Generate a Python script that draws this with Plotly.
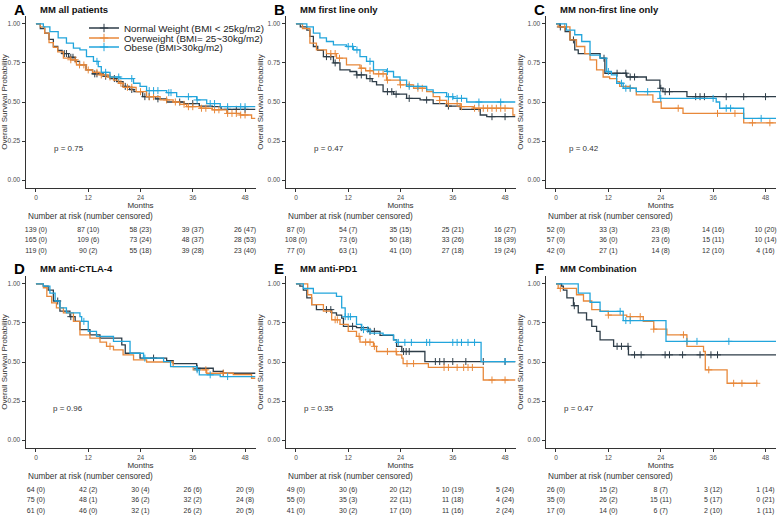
import plotly.graph_objects as go
import numpy as np

# ------------------------------------------------------------------ data
group_names = ["Normal Weight (BMI < 25kg/m2)", "Overweight (BMI= 25~30kg/m2)", "Obese (BMI>30kg/m2)"]
panel_letters = ["A", "B", "C", "D", "E", "F"]
panel_titles = ["MM all patients", "MM first line only", "MM non-first line only",
                "MM anti-CTLA-4", "MM anti-PD1", "MM Combination"]
p_values = ["0.75", "0.47", "0.42", "0.96", "0.35", "0.47"]
risk_months = [0, 12, 24, 36, 48]
surv_ticks = [0, 0.25, 0.5, 0.75, 1.0]

# Kaplan-Meier steps (month, survival) and censor times
# A - all patients
a_nor_t = [0, 1, 2, 3, 4, 5, 6, 7.5, 9, 10, 11.5, 13, 15.5, 17, 18.5, 20, 21.5, 22.5, 24.5, 27.5, 30, 34, 37.5, 40.5, 42.5, 50.4]
a_nor_s = [1.0, 0.97, 0.94, 0.90, 0.855, 0.83, 0.81, 0.786, 0.76, 0.737, 0.705, 0.68, 0.665, 0.65, 0.63, 0.60, 0.58, 0.566, 0.534, 0.52, 0.50, 0.49, 0.474, 0.47, 0.453, 0.453]
a_nor_c = [6.5, 7, 8, 8.5, 13.5, 14, 16, 18, 20.5, 22, 25, 26, 28, 33, 36, 44, 46, 48]
a_ovr_t = [0, 1, 2, 3, 4, 5, 6.3, 8, 9.3, 11.5, 13, 14.7, 16.5, 17.8, 19, 20, 23, 25.4, 28.5, 31.5, 33, 34.6, 37.7, 40.5, 43.8, 46.9, 49.5, 50.4]
a_ovr_s = [1.0, 0.98, 0.94, 0.88, 0.85, 0.82, 0.78, 0.77, 0.737, 0.705, 0.69, 0.673, 0.66, 0.64, 0.62, 0.594, 0.566, 0.534, 0.513, 0.50, 0.485, 0.47, 0.46, 0.45, 0.427, 0.417, 0.395, 0.395]
a_ovr_c = [8, 9, 10, 11, 12, 14, 15, 16, 17, 19.5, 21, 22, 24, 26, 27, 30, 32, 34, 35, 36, 38, 39, 41, 42, 44, 45, 46, 47, 48]
a_obe_t = [0, 1.7, 3.2, 5.1, 7, 8.6, 10.1, 11.6, 13.2, 14.3, 15, 17, 19.3, 22.4, 23.9, 25.4, 30, 32.3, 36.9, 39.2, 42.3, 50.4]
a_obe_s = [1.0, 0.98, 0.95, 0.91, 0.876, 0.844, 0.833, 0.79, 0.76, 0.726, 0.69, 0.66, 0.65, 0.62, 0.60, 0.573, 0.56, 0.534, 0.513, 0.49, 0.47, 0.47]
a_obe_c = [14, 16, 19, 22, 26, 27, 28, 30.5, 31, 35, 37, 40, 41, 44, 47, 48]

# B - first line only
b_nor_t = [0, 1, 2.5, 3.2, 4, 5, 6.3, 8.6, 10.1, 12.4, 13.9, 16.2, 17.5, 18.5, 20, 22.4, 25.4, 28.5, 31.5, 34.6, 37.7, 42.3, 43.8, 50.4]
b_nor_s = [1.0, 0.98, 0.96, 0.92, 0.855, 0.83, 0.79, 0.75, 0.705, 0.695, 0.673, 0.65, 0.63, 0.61, 0.566, 0.55, 0.523, 0.513, 0.49, 0.474, 0.453, 0.417, 0.406, 0.406]
b_nor_c = [7, 8, 9, 14, 15, 17, 21, 22, 23, 26, 30, 35, 45, 48]
b_ovr_t = [0, 1.5, 3.2, 4.7, 7, 9.3, 11.6, 14.7, 16, 17.8, 20.8, 23.9, 27, 30, 31.5, 33, 34.6, 37.7, 40.7, 49.8, 50.4]
b_ovr_s = [1.0, 0.97, 0.876, 0.833, 0.81, 0.78, 0.737, 0.716, 0.70, 0.68, 0.64, 0.61, 0.588, 0.566, 0.534, 0.51, 0.49, 0.47, 0.46, 0.417, 0.417]
b_ovr_c = [8, 9, 10, 15, 17, 19, 20, 21, 24, 26, 28, 29, 33, 35, 37, 38, 41, 42, 43, 44, 45, 46, 47, 48]
b_obe_t = [0, 2.5, 4, 5.5, 7, 8.6, 11.6, 13.2, 14.7, 16.2, 17.8, 20.8, 22.4, 23.9, 25.4, 30, 31.5, 34.6, 36.1, 39.2, 50.4]
b_obe_s = [1.0, 0.98, 0.94, 0.91, 0.887, 0.865, 0.855, 0.833, 0.79, 0.76, 0.705, 0.695, 0.66, 0.64, 0.60, 0.577, 0.56, 0.534, 0.523, 0.50, 0.50]
b_obe_c = [12, 13, 14, 17, 21, 26, 28, 35, 36, 37, 38, 42, 47]

# C - non-first line only
c_nor_t = [0, 0.9, 2.1, 3.2, 4.3, 5.1, 10.1, 11.2, 16.2, 20.7, 23.8, 24.5, 30, 50.4]
c_nor_s = [1.0, 0.98, 0.95, 0.897, 0.833, 0.81, 0.78, 0.684, 0.66, 0.64, 0.588, 0.566, 0.534, 0.534]
c_nor_c = [1, 4, 11, 14, 16, 17, 18, 24, 25, 26, 32, 33, 34, 39, 43, 48]
c_ovr_t = [0, 0.5, 3.2, 4.7, 6.6, 7.8, 9.3, 10.8, 12.3, 13.9, 14.6, 16.9, 18.4, 22.2, 24.1, 29.1, 43, 50.4]
c_ovr_s = [1.0, 0.98, 0.897, 0.855, 0.81, 0.77, 0.705, 0.66, 0.65, 0.63, 0.60, 0.588, 0.545, 0.50, 0.46, 0.427, 0.367, 0.367]
c_ovr_c = [2, 17, 28, 37, 41, 45, 49]
c_obe_t = [0, 2.4, 4.3, 5.9, 7.8, 10.1, 11.6, 12.7, 13.9, 15.4, 18.4, 23.8, 36.7, 37.5, 43, 50.4]
c_obe_s = [1.0, 0.96, 0.93, 0.887, 0.80, 0.78, 0.695, 0.673, 0.62, 0.588, 0.566, 0.523, 0.50, 0.46, 0.395, 0.395]
c_obe_c = [12, 15, 16, 17, 21, 24, 36, 39, 40, 47]

# D - anti-CTLA-4
d_nor_t = [0, 1.7, 2.8, 4, 5.5, 7.8, 9, 10.1, 12.4, 14.7, 19.7, 20.5, 23.9, 30, 31.5, 36.9, 40.7, 43, 50.4]
d_nor_s = [1.0, 0.985, 0.96, 0.89, 0.825, 0.79, 0.76, 0.707, 0.674, 0.653, 0.61, 0.556, 0.525, 0.508, 0.49, 0.46, 0.44, 0.428, 0.428]
d_nor_c = [5, 8, 27, 37, 43]
d_ovr_t = [0, 1.7, 2.5, 3.6, 4.7, 6.3, 8.6, 10.1, 12.4, 14.7, 16.2, 17.8, 20, 22.4, 25.4, 31.5, 36.1, 39.2, 45.3, 49.5, 50.4]
d_ovr_s = [1.0, 0.975, 0.92, 0.878, 0.846, 0.814, 0.76, 0.674, 0.653, 0.627, 0.60, 0.578, 0.546, 0.514, 0.50, 0.47, 0.45, 0.428, 0.42, 0.396, 0.396]
d_ovr_c = [17, 39, 43]
d_obe_t = [0, 1.7, 3.2, 4.4, 5.5, 7, 10.1, 10.5, 12, 13.9, 17.8, 21.6, 24.7, 29.3, 30.9, 36.9, 37.5, 42.3, 50.4]
d_obe_s = [1.0, 0.985, 0.94, 0.89, 0.846, 0.814, 0.79, 0.76, 0.696, 0.664, 0.632, 0.556, 0.525, 0.503, 0.47, 0.45, 0.418, 0.407, 0.407]
d_obe_c = [11, 25, 37, 40, 44]

# E - anti-PD1
e_nor_t = [0, 0.9, 1.7, 2.5, 3.6, 4.7, 8.2, 9.3, 10.5, 10.9, 13.9, 16.6, 19.3, 22.4, 23.1, 24.3, 29.6, 50.4]
e_nor_s = [1.0, 0.985, 0.96, 0.91, 0.867, 0.835, 0.814, 0.80, 0.78, 0.728, 0.72, 0.696, 0.67, 0.642, 0.60, 0.567, 0.503, 0.503]
e_nor_c = [7, 8, 13, 15, 17, 18, 24.7, 25.3, 26, 32, 33, 34, 36, 39, 43, 48]
e_ovr_t = [0, 2.7, 3.6, 6.3, 8.2, 10.1, 12, 13.9, 14.7, 17.8, 18.5, 23.1, 24.3, 24.6, 30.4, 43, 50.4]
e_ovr_s = [1.0, 0.93, 0.867, 0.825, 0.77, 0.74, 0.696, 0.664, 0.627, 0.60, 0.567, 0.546, 0.525, 0.49, 0.465, 0.385, 0.385]
e_ovr_c = [9, 9.5, 14.5, 16, 17, 18, 21, 23, 25.5, 27, 34, 35, 37, 38.5, 39.5, 40.5, 45, 48]
e_obe_t = [0, 1.7, 4, 9.3, 10.5, 11.3, 13.9, 15.1, 17, 20, 22.4, 23.1, 42.5, 50.4]
e_obe_s = [1.0, 0.97, 0.94, 0.92, 0.846, 0.79, 0.74, 0.707, 0.685, 0.674, 0.642, 0.625, 0.503, 0.503]
e_obe_c = [11.3, 12, 12.5, 15.5, 16.5, 23.5, 25, 26.5, 30, 30.7, 36, 37, 38, 39.5, 41, 48]

# F - combination
f_nor_t = [0, 1.3, 1.7, 2.5, 4, 5.1, 7, 8.2, 9.3, 10.1, 13.2, 16.6, 50.4]
f_nor_s = [1.0, 0.985, 0.96, 0.91, 0.86, 0.814, 0.77, 0.728, 0.696, 0.642, 0.60, 0.546, 0.546]
f_nor_c = [4.2, 14, 15, 16.5, 18, 19.5, 25, 26, 29, 33, 35.5, 37]
f_ovr_t = [0, 0.5, 4.7, 6.3, 8.2, 10.1, 12, 16.2, 20, 22.4, 25.4, 30, 33.8, 34.2, 39.2, 46.2]
f_ovr_s = [1.0, 0.971, 0.93, 0.89, 0.835, 0.825, 0.80, 0.79, 0.76, 0.71, 0.674, 0.60, 0.567, 0.45, 0.364, 0.364]
f_ovr_c = [1, 12, 17, 19.3, 22.4, 29.2, 35, 40.7, 42.6, 46]
f_obe_t = [0, 5.1, 7.8, 10.1, 15.4, 25.2, 50.4]
f_obe_s = [1.0, 0.941, 0.882, 0.824, 0.765, 0.632, 0.632]
f_obe_c = [14.7, 16, 17, 30, 32.3, 39.6]

# Number at risk (rows: normal, overweight, obese) and number censored
a_risk = [[139, 87, 58, 39, 26], [165, 109, 73, 48, 28], [119, 90, 55, 39, 23]]
a_cens = [[0, 10, 23, 37, 47], [0, 6, 24, 37, 53], [0, 2, 18, 28, 40]]
b_risk = [[87, 54, 35, 25, 16], [108, 73, 50, 33, 18], [77, 63, 41, 27, 19]]
b_cens = [[0, 7, 15, 21, 27], [0, 6, 18, 26, 39], [0, 1, 10, 18, 24]]
c_risk = [[52, 33, 23, 14, 10], [57, 36, 23, 15, 10], [42, 27, 14, 12, 4]]
c_cens = [[0, 3, 8, 16, 20], [0, 0, 6, 11, 14], [0, 1, 8, 10, 16]]
d_risk = [[64, 42, 30, 26, 20], [75, 48, 36, 32, 24], [61, 46, 32, 26, 20]]
d_cens = [[0, 2, 4, 6, 9], [0, 1, 2, 2, 8], [0, 0, 1, 2, 5]]
e_risk = [[49, 30, 20, 10, 5], [55, 35, 22, 11, 4], [41, 30, 17, 11, 2]]
e_cens = [[0, 6, 12, 19, 24], [0, 3, 11, 18, 24], [0, 2, 10, 16, 24]]
f_risk = [[26, 15, 8, 3, 1], [35, 26, 15, 5, 0], [17, 14, 6, 2, 1]]
f_cens = [[0, 2, 7, 12, 14], [0, 2, 11, 17, 21], [0, 0, 7, 10, 11]]

panels = [
    ([(a_nor_t, a_nor_s, a_nor_c), (a_ovr_t, a_ovr_s, a_ovr_c), (a_obe_t, a_obe_s, a_obe_c)], a_risk, a_cens),
    ([(b_nor_t, b_nor_s, b_nor_c), (b_ovr_t, b_ovr_s, b_ovr_c), (b_obe_t, b_obe_s, b_obe_c)], b_risk, b_cens),
    ([(c_nor_t, c_nor_s, c_nor_c), (c_ovr_t, c_ovr_s, c_ovr_c), (c_obe_t, c_obe_s, c_obe_c)], c_risk, c_cens),
    ([(d_nor_t, d_nor_s, d_nor_c), (d_ovr_t, d_ovr_s, d_ovr_c), (d_obe_t, d_obe_s, d_obe_c)], d_risk, d_cens),
    ([(e_nor_t, e_nor_s, e_nor_c), (e_ovr_t, e_ovr_s, e_ovr_c), (e_obe_t, e_obe_s, e_obe_c)], e_risk, e_cens),
    ([(f_nor_t, f_nor_s, f_nor_c), (f_ovr_t, f_ovr_s, f_ovr_c), (f_obe_t, f_obe_s, f_obe_c)], f_risk, f_cens),
]

# ------------------------------------------------------------------ layout constants (pixels)
W, H = 778, 517
colors = ["#2E3D48", "#E8883A", "#22A5DC"]
FONT = "Liberation Sans, Arial, sans-serif"
x_range = [-2.4, 50.4]
y_range = [-0.05, 1.05]
col_px = [(25.5, 255.5), (285.5, 515.5), (545.5, 776)]
row_px = [(16, 188), (276, 448)]
risk_px = [(224.5, 256), (484.5, 516)]
title_py = [9, 268.5]
nrisk_py = [216, 476]
legend_py = [28, 38, 47]
p_x = [3.7, 3.7, 2.5, 3.5, 1.3, 1.3]
dash_x = -4.0


def ax(name, k):
    return name if k == 1 else f"{name}{k}"


def surv_at(t, s, tc):
    idx = np.searchsorted(np.array(t), np.array(tc), side="right") - 1
    return np.array(s)[idx]


fig = go.Figure()
layout = {}
annotations = []

for i, (curves, risk, cens) in enumerate(panels):
    r, c = divmod(i, 3)
    k, kr = i + 1, i + 7
    xs, ys, xr, yr = ax("x", k), ax("y", k), ax("x", kr), ax("y", kr)

    for g, (t, s, tc) in enumerate(curves):
        fig.add_trace(go.Scatter(x=t, y=s, mode="lines", line=dict(color=colors[g], width=1.3, shape="hv"),
                                 xaxis=xs, yaxis=ys, showlegend=False, hoverinfo="skip"))
        fig.add_trace(go.Scatter(x=tc, y=surv_at(t, s, tc), mode="markers",
                                 marker=dict(symbol="cross-thin", size=5, line=dict(width=1, color=colors[g])),
                                 xaxis=xs, yaxis=ys, showlegend=False, hoverinfo="skip"))
        # risk table row
        fig.add_trace(go.Scatter(x=risk_months, y=[3 - g] * len(risk_months), mode="text",
                                 text=[f"{n} ({m})" for n, m in zip(risk[g], cens[g])],
                                 textfont=dict(size=7, color="#333333", family=FONT),
                                 xaxis=xr, yaxis=yr, showlegend=False, cliponaxis=False, hoverinfo="skip"))
        fig.add_trace(go.Scatter(x=[dash_x], y=[3 - g], mode="markers",
                                 marker=dict(symbol="line-ew", size=7, line=dict(width=2.5, color=colors[g])),
                                 xaxis=xr, yaxis=yr, showlegend=False, cliponaxis=False, hoverinfo="skip"))

    xdom = [col_px[c][0] / W, col_px[c][1] / W]
    layout[ax("xaxis", k)] = dict(
        domain=xdom, range=x_range, anchor=ys, tickvals=risk_months, ticks="outside", ticklen=3,
        tickcolor="#333333", showline=True, linecolor="#333333", linewidth=1, showgrid=False, zeroline=False,
        tickfont=dict(size=6.5, color="#4D4D4D"),
        title=dict(text="Months", font=dict(size=8, color="#333333"), standoff=1))
    layout[ax("yaxis", k)] = dict(
        domain=[1 - row_px[r][1] / H, 1 - row_px[r][0] / H], range=y_range, anchor=xs,
        tickvals=surv_ticks, tickformat=".2f", ticks="outside", ticklen=3, tickcolor="#333333",
        showline=True, linecolor="#333333", linewidth=1, showgrid=False, zeroline=False,
        tickfont=dict(size=6.5, color="#4D4D4D"),
        title=dict(text="Overall Survival Probability", font=dict(size=8, color="#333333"), standoff=2))
    layout[ax("xaxis", kr)] = dict(domain=xdom, range=x_range, anchor=yr, visible=False)
    layout[ax("yaxis", kr)] = dict(domain=[1 - risk_px[r][1] / H, 1 - risk_px[r][0] / H],
                                   range=[0.5, 3.5], anchor=xr, visible=False)

    annotations += [
        dict(text=f"<b>{panel_letters[i]}</b>", x=(col_px[c][0] - 6.5) / W, y=1 - title_py[r] / H,
             xref="paper", yref="paper", xanchor="center", yanchor="middle", showarrow=False,
             font=dict(size=15, color="#000000")),
        dict(text=f"<b>{panel_titles[i]}</b>", x=(col_px[c][0] + 12.5) / W, y=1 - title_py[r] / H,
             xref="paper", yref="paper", xanchor="left", yanchor="middle", showarrow=False,
             font=dict(size=9.5, color="#111111")),
        dict(text=f"p = {p_values[i]}", x=p_x[i], y=0.2, xref=xs, yref=ys, xanchor="left",
             yanchor="middle", showarrow=False, font=dict(size=8, color="#333333")),
        dict(text="Number at risk (number censored)", x=(col_px[c][0] + 0.5) / W, y=1 - nrisk_py[r] / H,
             xref="paper", yref="paper", xanchor="left", yanchor="middle", showarrow=False,
             font=dict(size=8.2, color="#333333")),
    ]

# legend entries (panel A), one small legend per group so they sit close together
for g, name in enumerate(group_names):
    lname = "legend" if g == 0 else f"legend{g + 1}"
    fig.add_trace(go.Scatter(x=[None], y=[None], mode="lines+markers", name=name,
                             line=dict(color=colors[g], width=1.3),
                             marker=dict(symbol="cross-thin", size=6, line=dict(width=1, color=colors[g])),
                             legend=lname))
    layout[lname] = dict(x=84 / W, y=1 - legend_py[g] / H, xanchor="left", yanchor="middle",
                         bgcolor="rgba(0,0,0,0)", font=dict(size=9.8, color="#222222"),
                         borderwidth=0)

fig.update_layout(**layout)
fig.update_layout(
    annotations=annotations,
    width=W, height=H,
    margin=dict(l=0, r=0, t=0, b=0),
    paper_bgcolor="white", plot_bgcolor="white",
    font=dict(family=FONT, color="#333333"),
    showlegend=True,
)

# page body margin off so the 778x517 figure sits at the window origin
fig.write_html("out.html", config={"displayModeBar": False},
               post_script="document.body.style.margin='0';")
